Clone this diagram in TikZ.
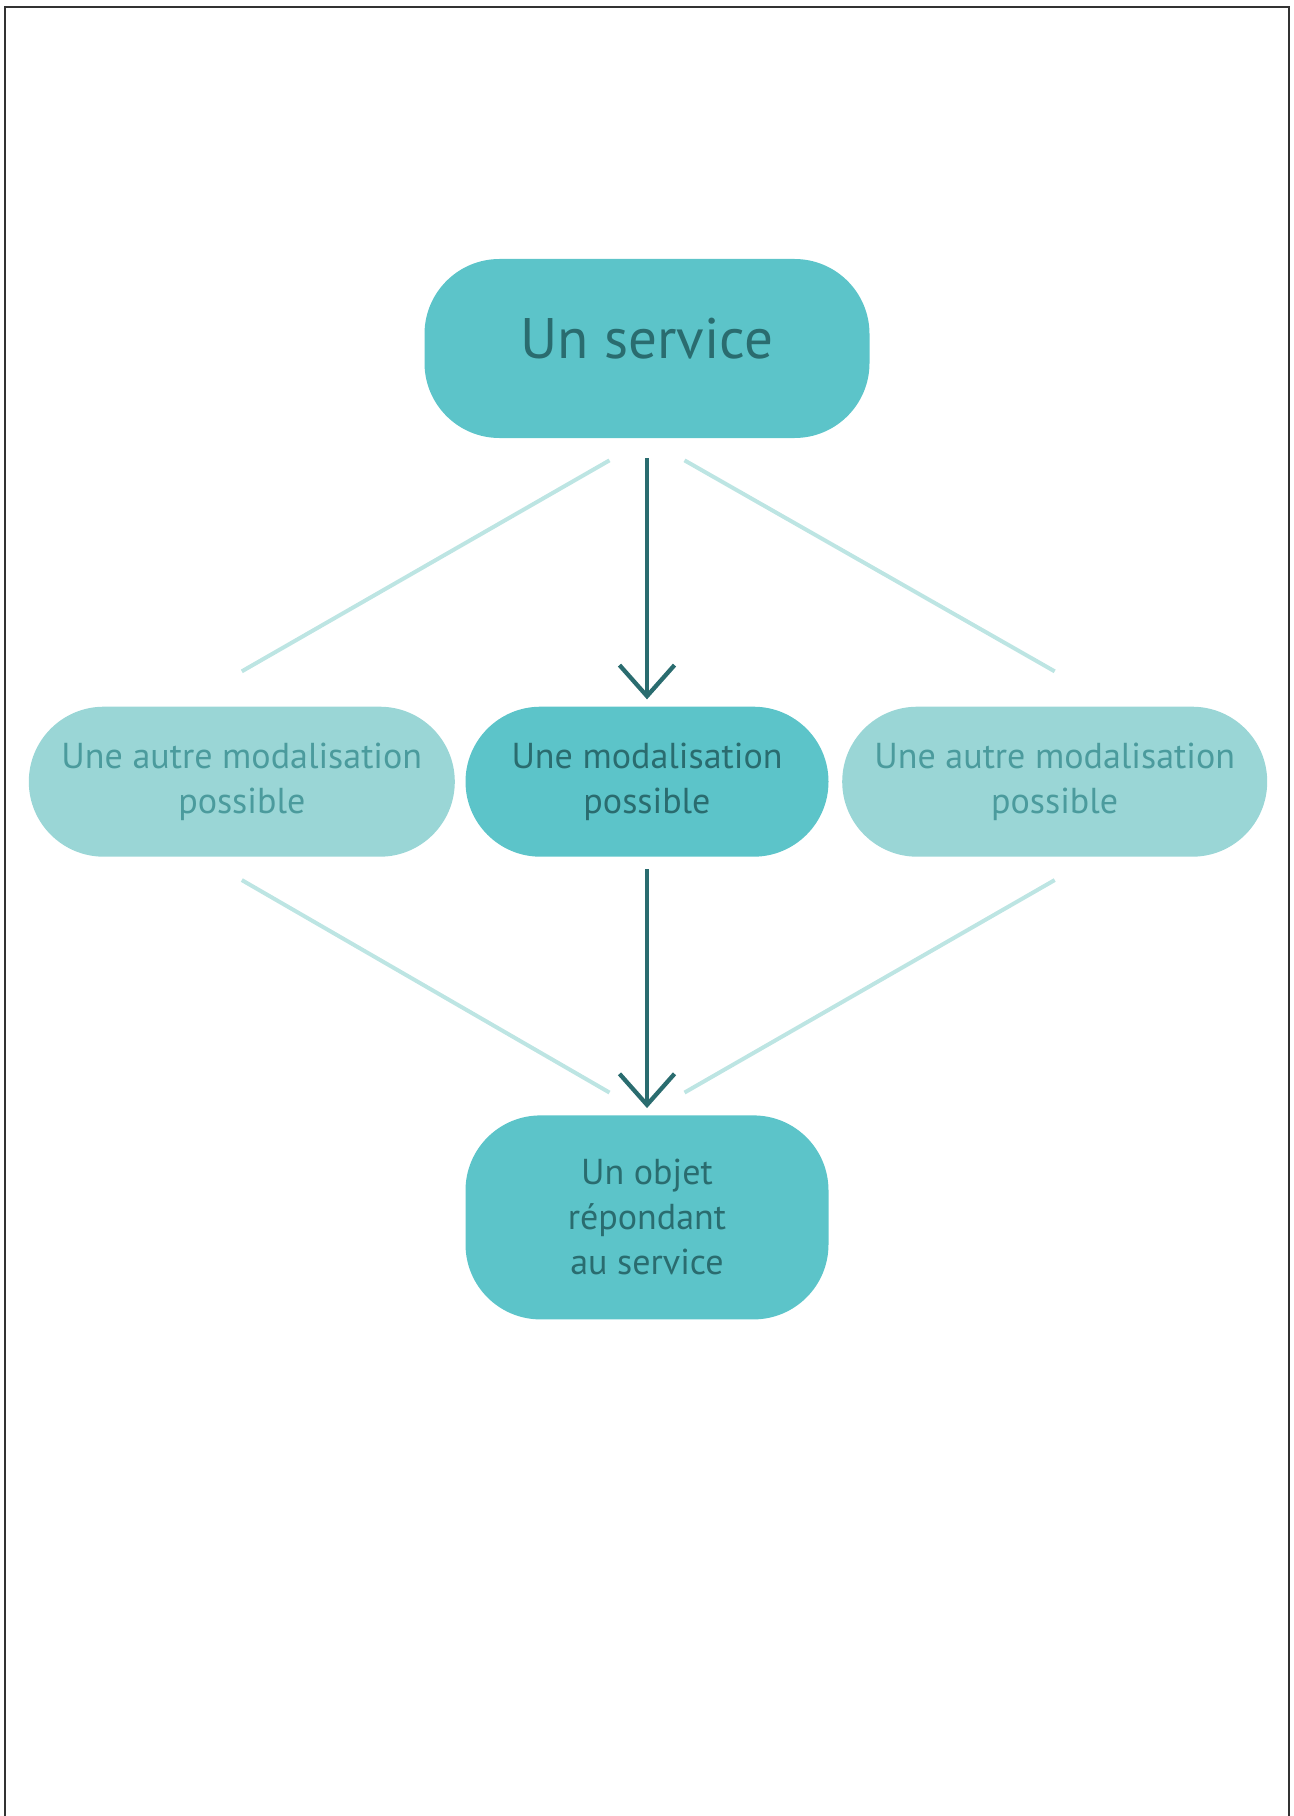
\documentclass[tikz,border=0pt]{standalone}
\usepackage{fontspec}
\setmainfont{PT Sans}
\usetikzlibrary{arrows.meta,positioning}
\definecolor{lagoon}{HTML}{5CC4C9}
\definecolor{deepteal}{HTML}{2A6C6F}
\definecolor{mist}{HTML}{9AD6D6}
\definecolor{misttext}{HTML}{4B9B9D}
\definecolor{mistline}{HTML}{BDE5E3}
\definecolor{framegrey}{HTML}{333333}

\begin{document}
\begin{tikzpicture}[node distance=53.6mm and 2mm, every node/.style={font=\fontsize{20.5}{25.6}\selectfont},
 pill/.style={fill=lagoon,text=deepteal,rounded corners=15mm,align=center,inner sep=0pt,minimum height=30mm},
 faded/.style={pill,fill=mist,text=misttext},
 arr/.style={-{Straight Barb[length=6.2mm,width=11mm]},draw=deepteal,line width=0.86mm},
 ghost/.style={draw=mistline,line width=0.8mm}]
\useasboundingbox (0,0) rectangle (258.6mm,-363.2mm);
\draw[framegrey,line width=0.4mm] (1mm,-363.2mm) |- (257.8mm,-1.4mm) -- (257.8mm,-363.2mm);
\node[pill,minimum width=89mm,minimum height=35.8mm,text depth=4mm,font=\fontsize{32.5}{40}\selectfont] (service) at (129.4mm,-69.7mm) {Un service};
\node[pill,below=of service,minimum width=72.6mm] (modal) {Une modalisation\\possible};
\node[faded,left=of modal,minimum width=85.2mm] (autreL) {Une autre modalisation\\possible};
\node[faded,right=2.6mm of modal,minimum width=85mm] (autreR) {Une autre modalisation\\possible};
\node[pill,below=51.6mm of modal,minimum width=72.6mm,minimum height=40.8mm] (objet) {Un objet\\répondant\\au service};
% the retained path
\draw[arr,shorten <=4mm,shorten >=1.4mm] (service) -- (modal);
\draw[arr,shorten <=2.4mm,shorten >=1.4mm] (modal) -- (objet);
% the other paths, faded
\draw[ghost] ([shift={(-7.5mm,-4.4mm)}]service.south) -- ([yshift=7mm]autreL.north);
\draw[ghost] ([shift={(7.5mm,-4.4mm)}]service.south) -- ([yshift=7mm]autreR.north);
\draw[ghost] ([yshift=-4.6mm]autreL.south) -- ([shift={(-7.5mm,4.5mm)}]objet.north);
\draw[ghost] ([yshift=-4.6mm]autreR.south) -- ([shift={(7.5mm,4.5mm)}]objet.north);
\end{tikzpicture}
\end{document}
